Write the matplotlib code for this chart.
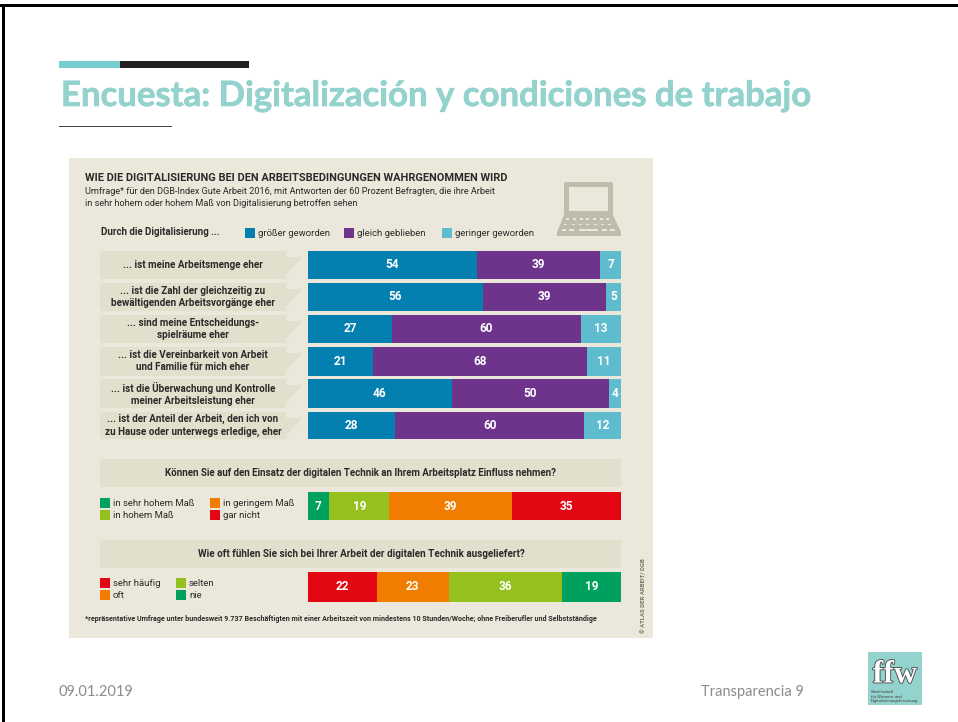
import matplotlib
matplotlib.use("Agg")
import matplotlib.patheffects as pe
import matplotlib.pyplot as plt
from matplotlib.patches import FancyBboxPatch, Polygon, Rectangle

W, H = 958, 722

BLUE = "#0480b0"
PURPLE = "#6e348c"
CYAN = "#5fbccf"
GREEN = "#00a05e"
LIME = "#95c11f"
ORANGE = "#f07d00"
RED = "#e30613"
PANEL = "#ebe8db"
BOX = "#e2dfcd"
TEXT = "#2b2a29"
TEAL = "#93d2cd"
ICON = "#bfbcab"

row_labels = [
    "... ist meine Arbeitsmenge eher",
    "... ist die Zahl der gleichzeitig zu\nbewältigenden Arbeitsvorgänge eher",
    "... sind meine Entscheidungs-\nspielräume eher",
    "... ist die Vereinbarkeit von Arbeit\nund Familie für mich eher",
    "... ist die Überwachung und Kontrolle\nmeiner Arbeitsleistung eher",
    "... ist der Anteil der Arbeit, den ich von\nzu Hause oder unterwegs erledige, eher",
]
groesser = [54, 56, 27, 21, 46, 28]
gleich = [39, 39, 60, 68, 50, 60]
geringer = [7, 5, 13, 11, 4, 12]
main_legend = ["größer geworden", "gleich geblieben", "geringer geworden"]

einfluss_labels = ["in sehr hohem Maß", "in hohem Maß", "in geringem Maß", "gar nicht"]
einfluss_values = [7, 19, 39, 35]

ausgeliefert_labels = ["sehr häufig", "oft", "selten", "nie"]
ausgeliefert_values = [22, 23, 36, 19]


def px_axes(fig, x0, y0, x1, y1):
    return fig.add_axes([x0 / W, 1 - y1 / H, (x1 - x0) / W, (y1 - y0) / H])


def stacked_bar(fig, box, values, colors):
    ax = px_axes(fig, *box)
    ax.set_xlim(0, sum(values))
    ax.set_ylim(-0.5, 0.5)
    ax.axis("off")
    left = 0
    for value, color in zip(values, colors):
        ax.barh(0, value, left=left, height=1, color=color)
        ax.text(left + value / 2, 0, str(value), color="white", fontsize=8.5,
                fontweight="bold", ha="center", va="center")
        left += value


def legend_entry(bg, x, y, label, color):
    bg.add_patch(Rectangle((x, y), 10, 10, color=color, lw=0))
    bg.text(x + 13, y + 5, label, fontsize=6.8, color=TEXT, va="center")


def draw_laptop(bg):
    bg.add_patch(FancyBboxPatch((566, 184), 45, 31, boxstyle="round,pad=2", color=ICON, lw=0))
    bg.add_patch(Rectangle((569, 187), 39, 24, color=PANEL, lw=0))
    bg.add_patch(Polygon([(564, 215), (613, 215), (621, 232), (621, 236), (557, 236), (557, 232)],
                         color=ICON, lw=0))
    for y, x0, x1 in [(218, 568, 608), (223.5, 566, 610)]:
        for i in range(7):
            bg.add_patch(Rectangle((x0 + i * (x1 - x0) / 6 - 1.5, y), 3, 1.6, color=PANEL, lw=0))
    for x0, x1 in [(562, 566), (569, 574), (579, 598), (602, 607), (610, 615)]:
        bg.add_patch(Rectangle((x0, 229), x1 - x0, 1.8, color=PANEL, lw=0))


def draw_logo(bg):
    bg.add_patch(Rectangle((868, 652), 54, 53, color=TEAL, lw=0))
    bg.text(895, 675, "ffw", fontsize=23, fontweight="bold", family="Liberation Serif",
            color="white", ha="center", va="center",
            path_effects=[pe.withStroke(linewidth=1.2, foreground="#444444")])
    for y, s in zip([692, 696.5, 701], ["Gesellschaft", "für Wissens- und", "Digitalisierungsforschung"]):
        bg.text(871, y, s, fontsize=3, color="#444444", va="center")


def main():
    plt.rcParams["font.family"] = ["Roboto", "DejaVu Sans"]
    fig = plt.figure(figsize=(W / 100, H / 100), dpi=100, facecolor="white")

    bg = fig.add_axes([0, 0, 1, 1])
    bg.set_xlim(0, W)
    bg.set_ylim(H, 0)
    bg.axis("off")

    # slide frame and header
    bg.add_patch(Rectangle((0, 4), W, 3, color="black", lw=0))
    bg.add_patch(Rectangle((2, 4), 3, H, color="black", lw=0))
    bg.add_patch(Rectangle((59, 61), 61, 7, color="#76cdd0", lw=0))
    bg.add_patch(Rectangle((120, 61), 129, 7, color="#231f20", lw=0))
    bg.add_patch(Rectangle((59, 126), 113, 1, color="#444444", lw=0))
    bg.text(61, 96, "Encuesta: Digitalización y condiciones de trabajo", fontsize=25,
            fontweight="bold", family="Lato", color=TEAL, va="center",
            path_effects=[pe.withStroke(linewidth=0.5, foreground=TEAL)])
    bg.text(59, 692, "09.01.2019", fontsize=10.5, family="Lato", color="#8b8b8b", va="center")
    bg.text(701, 692, "Transparencia 9", fontsize=10.5, family="Lato", color="#8b8b8b", va="center")
    draw_logo(bg)

    # infographic panel
    bg.add_patch(Rectangle((69, 158), 584, 480, color=PANEL, lw=0))
    bg.text(85, 178, "WIE DIE DIGITALISIERUNG BEI DEN ARBEITSBEDINGUNGEN WAHRGENOMMEN WIRD",
            fontsize=7.9, fontweight="bold", color=TEXT, va="center")
    bg.text(85, 192, "Umfrage* für den DGB-Index Gute Arbeit 2016, mit Antworten der 60 Prozent Befragten, die ihre Arbeit",
            fontsize=6.6, color=TEXT, va="center")
    bg.text(85, 204, "in sehr hohem oder hohem Maß von Digitalisierung betroffen sehen",
            fontsize=6.6, color=TEXT, va="center")
    draw_laptop(bg)

    bg.text(101, 232, "Durch die Digitalisierung ...", fontsize=7, fontweight="bold",
            color=TEXT, va="center")
    for x, label, color in zip([245, 344, 442], main_legend, [BLUE, PURPLE, CYAN]):
        legend_entry(bg, x, 228, label, color)

    row_tops = [251, 283, 315, 347, 379, 412]
    row_bottoms = [279, 311, 343, 376, 408, 439]
    for top, bottom, label, a, b, c in zip(row_tops, row_bottoms, row_labels, groesser, gleich, geringer):
        bg.add_patch(Rectangle((100, top), 186, bottom - top, color=BOX, lw=0))
        bg.add_patch(Polygon([(286, top + 6), (302, top + 6), (286, top + 24)], color=BOX, lw=0))
        bg.text(193, (top + bottom) / 2, label, fontsize=7.1, fontweight="bold", color=TEXT,
                ha="center", va="center", linespacing=1.25)
        stacked_bar(fig, (307.5, top, 621.5, bottom), [a, b, c], [BLUE, PURPLE, CYAN])

    # influence question
    bg.add_patch(Rectangle((100, 459), 521.5, 28, color=BOX, lw=0))
    bg.text(361, 473, "Können Sie auf den Einsatz der digitalen Technik an Ihrem Arbeitsplatz Einfluss nehmen?",
            fontsize=7, fontweight="bold", color=TEXT, ha="center", va="center")
    colors = [GREEN, LIME, ORANGE, RED]
    for x, y, label, color in zip([100, 100, 210, 210], [498, 510, 498, 510], einfluss_labels, colors):
        legend_entry(bg, x, y, label, color)
    stacked_bar(fig, (307.5, 492, 621.5, 520), einfluss_values, colors)

    # exposure question
    bg.add_patch(Rectangle((100, 540), 521.5, 28, color=BOX, lw=0))
    bg.text(361, 554, "Wie oft fühlen Sie sich bei Ihrer Arbeit der digitalen Technik ausgeliefert?",
            fontsize=7.1, fontweight="bold", color=TEXT, ha="center", va="center")
    colors = [RED, ORANGE, LIME, GREEN]
    for x, y, label, color in zip([100, 100, 176, 176], [578, 590, 578, 590], ausgeliefert_labels, colors):
        legend_entry(bg, x, y, label, color)
    stacked_bar(fig, (307.5, 572, 621.5, 602), ausgeliefert_values, colors)

    bg.text(85, 619, "*repräsentative Umfrage unter bundesweit 9.737 Beschäftigten mit einer Arbeitszeit von mindestens 10 Stunden/Woche; ohne Freiberufler und Selbstständige",
            fontsize=5.1, fontweight="bold", color=TEXT, va="center")
    bg.text(644, 596, "© ATLAS DER ARBEIT/ DGB", fontsize=4.3, fontweight="bold", color="#77756a",
            rotation=90, ha="center", va="center")

    fig.savefig("out.png", dpi=100)


if __name__ == "__main__":
    main()
